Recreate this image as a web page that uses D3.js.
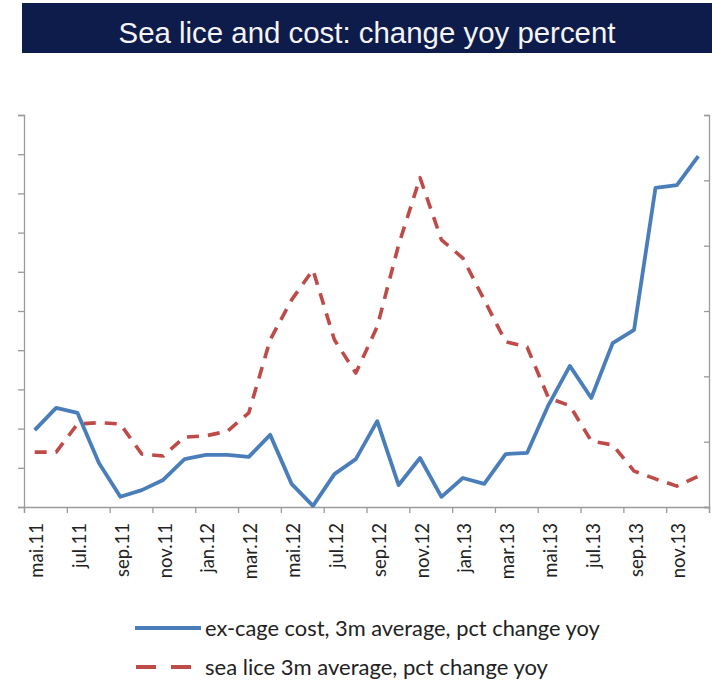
<!DOCTYPE html>
<html>
<head>
<meta charset="utf-8">
<script src="https://cdn.jsdelivr.net/npm/d3@7"></script>
<style>
  html, body { margin: 0; padding: 0; background: #ffffff; }
  svg { display: block; }
</style>
</head>
<body>
<svg id="chart" width="712" height="682"></svg>
<script>
// ---- data ----
const titleText = "Sea lice and cost: change yoy percent";
const months = [
  "mai.11","jun.11","jul.11","aug.11","sep.11","okt.11","nov.11","des.11",
  "jan.12","feb.12","mar.12","apr.12","mai.12","jun.12","jul.12","aug.12",
  "sep.12","okt.12","nov.12","des.12","jan.13","feb.13","mar.13","apr.13",
  "mai.13","jun.13","jul.13","aug.13","sep.13","okt.13","nov.13","des.13"
];
// ex-cage cost, 3m average, pct change yoy (left axis units)
const costValues = [
  19.6, 25.3, 24.0, 11.2, 2.6, 4.3, 6.9, 12.2,
  13.3, 13.3, 12.8, 18.4, 5.9, 0.3, 8.4, 12.2,
  21.9, 5.6, 12.5, 2.6, 7.4, 5.9, 13.5, 13.8,
  26.0, 36.0, 27.8, 41.8, 45.2, 81.4, 82.1, 89.5
];
// sea lice 3m average, pct change yoy (right axis units)
const liceValues = [
  8.4, 8.4, 12.7, 12.9, 12.7, 8.1, 7.8, 10.7,
  10.9, 11.6, 14.4, 25.6, 31.7, 36.3, 25.6, 20.5,
  27.6, 40.1, 50.4, 40.9, 38.1, 31.7, 25.3, 24.5,
  16.7, 15.5, 10.1, 9.5, 5.5, 4.3, 3.2, 4.7
];
const leftTicks = [0,10,20,30,40,50,60,70,80,90,100];
const rightTicks = [0,10,20,30,40,50,60];
const seriesNames = [
  "ex-cage cost, 3m average, pct change yoy",
  "sea lice 3m average, pct change yoy"
];

// ---- layout ----
const svg = d3.select("#chart");
const plot = { left: 24, right: 709, top: 115, bottom: 507 };
const blue = "#4a7ebb", red = "#be4b48", axisCol = "#9a9a9a";

// banner
svg.append("rect").attr("x", 22).attr("y", 3).attr("width", 690).attr("height", 50)
  .attr("fill", "#0e1c4c");
const tt = svg.append("text").attr("x", 367).attr("y", 43)
  .attr("text-anchor", "middle").attr("fill", "#f4f4f4")
  .style("font-family", "'Liberation Sans', Arial, sans-serif")
  .style("font-size", "27px").text(titleText);
{
  const w = tt.node().getComputedTextLength();
  tt.style("font-size", (27 * 497 / w).toFixed(2) + "px");
}

const x = d3.scaleBand().domain(months).range([plot.left, plot.right]).padding(0);
const yL = d3.scaleLinear().domain([0, 100]).range([plot.bottom, plot.top]);
const yR = d3.scaleLinear().domain([0, 60]).range([plot.bottom, plot.top]);

// left axis
const gL = svg.append("g").attr("transform", `translate(${plot.left},0)`)
  .call(d3.axisLeft(yL).tickValues(leftTicks).tickSize(6).tickFormat(""));
// right axis
const gR = svg.append("g").attr("transform", `translate(${plot.right},0)`)
  .call(d3.axisLeft(yR).tickValues(rightTicks).tickSize(5).tickFormat(""));
// bottom axis: tick marks every 2 categories at boundaries
const boundaries = d3.range(0, months.length + 1, 2);
const xb = d3.scaleLinear().domain([0, months.length]).range([plot.left, plot.right]);
const gB = svg.append("g").attr("transform", `translate(0,${plot.bottom})`)
  .call(d3.axisBottom(xb).tickValues(boundaries).tickSize(6).tickFormat(""));
[gL, gR, gB].forEach(g => {
  g.select(".domain").attr("stroke", axisCol).attr("stroke-width", 1.3);
  g.selectAll(".tick line").attr("stroke", axisCol).attr("stroke-width", 1.3);
});

// month labels every second category
const labelMonths = months.filter((d, i) => i % 2 === 0);
svg.append("g").selectAll("text").data(labelMonths).join("text")
  .attr("transform", d => `translate(${x(d) + x.bandwidth() / 2 + 2},${plot.bottom + 16}) rotate(-90)`)
  .attr("text-anchor", "end").attr("dy", "0.35em")
  .attr("fill", "#222")
  .style("font-family", "Lato, 'Open Sans', sans-serif")
  .style("font-size", "18.5px")
  .text(d => d);

// lines
const lineCost = d3.line().x((d, i) => x(months[i]) + x.bandwidth() / 2).y(d => yL(d));
const lineLice = d3.line().x((d, i) => x(months[i]) + x.bandwidth() / 2).y(d => yR(d));

svg.append("path").datum(liceValues).attr("d", lineLice)
  .attr("fill", "none").attr("stroke", red).attr("stroke-width", 3.6)
  .attr("stroke-dasharray", "12,9").attr("stroke-linejoin", "round");
svg.append("path").datum(costValues).attr("d", lineCost)
  .attr("fill", "none").attr("stroke", blue).attr("stroke-width", 3.8)
  .attr("stroke-linejoin", "round");

// legend
const leg = svg.append("g");
const legY = [628, 667];
leg.append("line").attr("x1", 135).attr("x2", 201).attr("y1", legY[0]).attr("y2", legY[0])
  .attr("stroke", blue).attr("stroke-width", 3.8);
leg.append("line").attr("x1", 136).attr("x2", 201).attr("y1", legY[1]).attr("y2", legY[1])
  .attr("stroke", red).attr("stroke-width", 3.8).attr("stroke-dasharray", "20,15");
const legTargets = [395, 343];
seriesNames.forEach((name, i) => {
  const t = leg.append("text").attr("x", 205).attr("y", legY[i]).attr("dy", "0.35em")
    .attr("fill", "#222")
    .style("font-family", "Lato, 'Open Sans', sans-serif")
    .style("font-size", "19px").text(name);
  const w = t.node().getComputedTextLength();
  t.style("font-size", (19 * legTargets[i] / w).toFixed(2) + "px");
});
</script>
</body>
</html>
